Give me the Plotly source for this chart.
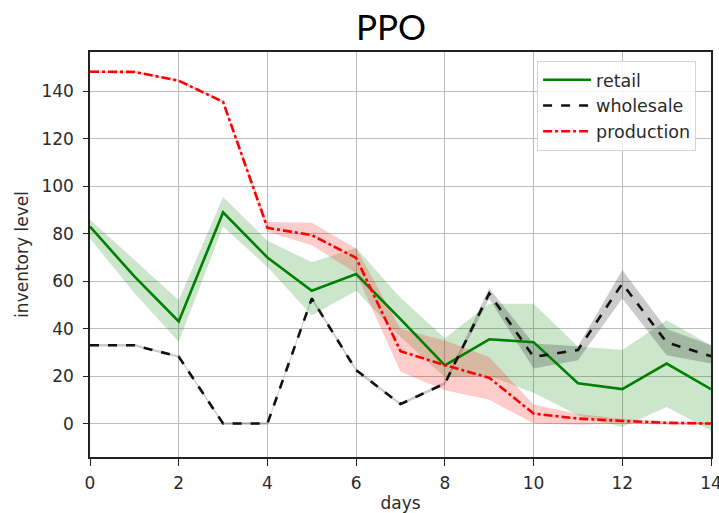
import plotly.graph_objects as go

days = list(range(15))

retail = [83, 62, 43, 89, 70, 56, 63, 44, 24.5, 35.5, 34.3, 17, 14.5, 25.3, 14.5]
retail_lo = [78, 55, 34.5, 83, 66, 45.5, 56, 36.5, 19.5, 20, 13, 3.5, -1.5, 7, -3]
retail_hi = [86, 69, 52, 95.5, 77, 68, 74, 53, 36, 50.5, 50.5, 32.5, 31, 43.5, 33]

wholesale = [33, 33, 28.2, 0, 0, 52.7, 22.5, 8.2, 16.9, 54.8, 28.1, 31, 59, 34.2, 28.4]
wholesale_lo = [32.5, 32.5, 27.7, -0.5, -0.5, 52, 21.8, 7.6, 16.2, 52.5, 23.2, 26.7, 52.7, 28.8, 25.3]
wholesale_hi = [33.5, 33.5, 28.7, 0.5, 0.5, 53.4, 23.2, 8.8, 17.6, 57, 33.7, 32.6, 64.7, 39.8, 33]

production = [148.3, 148.2, 144.5, 135.6, 82.5, 79.4, 69.8, 30.5, 24.6, 19.3, 4.2, 2.1, 1.1, 0.3, 0]
production_lo = [147.8, 147.7, 144, 135.1, 80.8, 75.2, 63.3, 21.8, 14, 10, 0, -0.5, 0, -0.5, -0.5]
production_hi = [148.8, 148.7, 145, 136.1, 85, 84.6, 73.8, 40, 35, 28, 8, 4, 2, 1, 0.5]

series = [
    ("retail", retail, retail_lo, retail_hi, "#008000", "solid", "rgba(0,128,0,0.2)"),
    ("wholesale", wholesale, wholesale_lo, wholesale_hi, "#111111", "dash", "rgba(0,0,0,0.2)"),
    ("production", production, production_lo, production_hi, "#ff0000", "dashdot", "rgba(255,0,0,0.2)"),
]

fig = go.Figure()
for name, y, lo, hi, color, dash, band in series:
    fig.add_trace(go.Scatter(
        x=days + days[::-1], y=hi + lo[::-1], fill="toself", fillcolor=band,
        line=dict(width=0), mode="lines", showlegend=False, hoverinfo="skip",
        legendgroup=name))
for name, y, lo, hi, color, dash, band in series:
    fig.add_trace(go.Scatter(
        x=days, y=y, mode="lines", name=name, legendgroup=name,
        line=dict(color=color, dash=dash, width=2.6)))

axis_common = dict(
    showgrid=True, gridcolor="#bcbcbc", gridwidth=1.2,
    showline=True, linecolor="#222222", linewidth=1.5, mirror=True,
    ticks="outside", tickwidth=1.3, tickcolor="#222222",
    tickfont=dict(family="DejaVu Sans", size=17, color="#2a2a2a"),
    zeroline=False, ticklabeloverflow="allow", automargin=False,
)

fig.update_layout(
    width=719, height=513,
    margin=dict(l=90, r=8, t=52, b=56),
    plot_bgcolor="white", paper_bgcolor="white",
    title=dict(text="PPO", x=(391 / 719), xanchor="center",
               y=1 - 28 / 513, yanchor="middle",
               font=dict(family="Lato", size=35, color="#000000")),
    xaxis=dict(range=[0, 14], tickvals=list(range(0, 15, 2)), ticklen=7,
               ticklabelstandoff=3,
               title=dict(text="days", standoff=14,
                          font=dict(family="DejaVu Sans", size=17, color="#2a2a2a")),
               **axis_common),
    yaxis=dict(range=[-14.1, 156.6], tickvals=list(range(0, 141, 20)), ticklen=5,
               ticklabelstandoff=6,
               title=dict(text="inventory level", standoff=8,
                          font=dict(family="DejaVu Sans", size=17, color="#2a2a2a")),
               **axis_common),
    legend=dict(x=0.976, y=0.978, xanchor="right", yanchor="top",
                bgcolor="rgba(255,255,255,0.85)", bordercolor="#d4d4d4", borderwidth=1,
                font=dict(family="DejaVu Sans", size=17.5, color="#2a2a2a"),
                tracegroupgap=9, traceorder="normal", itemwidth=48),
    showlegend=True,
)

fig.write_html("out.html")
